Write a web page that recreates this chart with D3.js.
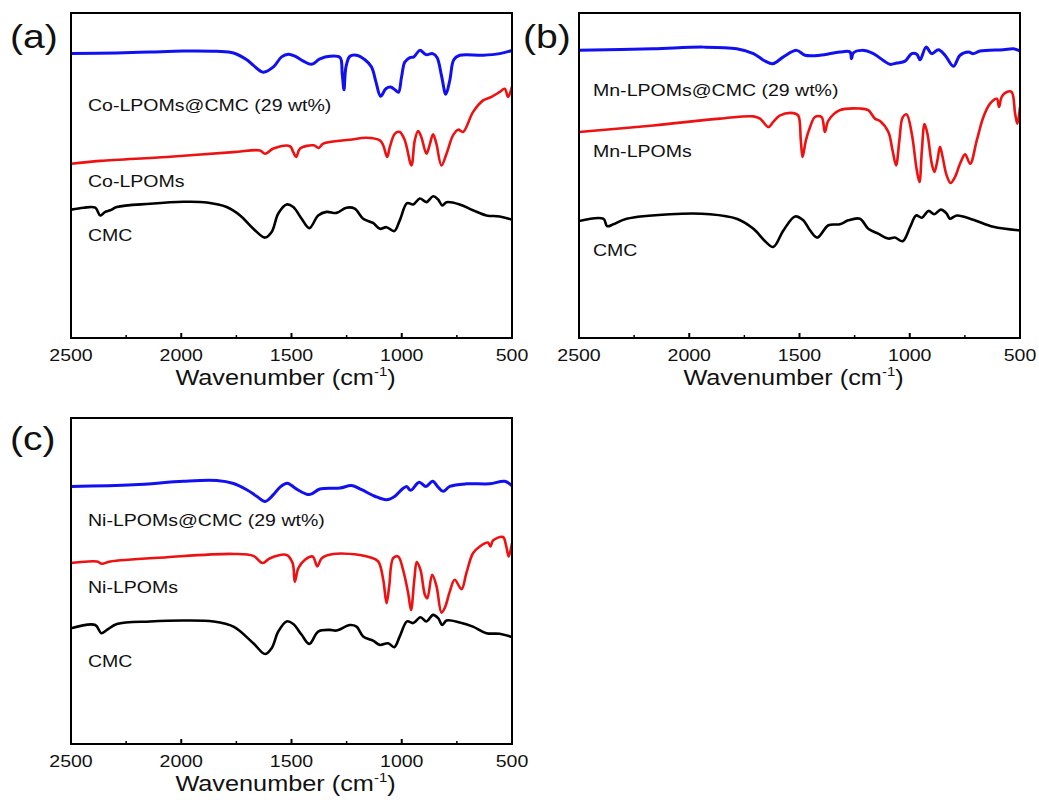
<!DOCTYPE html>
<html>
<head>
<meta charset="utf-8">
<script src="https://cdn.jsdelivr.net/npm/d3@7"></script>
<style>
  body { margin: 0; background: #fff; }
  svg { display: block; font-family: Arial, "Liberation Sans", sans-serif; }
</style>
</head>
<body>
<svg id="fig" width="1039" height="800"></svg>
<script>
// wavenumber (cm-1), transmittance (a.u., offset per trace)
const coComposite = [[2500,87.5],[2292,87.7],[2141,88.0],[1990,88.3],[1839,88.2],[1763,87.7],[1703,85.6],[1673,83.9],[1628,81.8],[1582,83.4],[1545,86.5],[1514,87.3],[1484,86.7],[1446,85.2],[1409,84.2],[1371,85.9],[1326,86.7],[1280,86.3],[1270,81.3],[1262,76.4],[1253,83.4],[1235,86.7],[1205,87.0],[1167,85.6],[1137,83.4],[1117,78.8],[1096,74.4],[1072,76.7],[1051,77.2],[1031,76.4],[1015,75.6],[1001,80.3],[986,84.9],[963,86.3],[945,86.5],[918,88.5],[890,87.2],[860,87.5],[840,86.3],[820,80.8],[800,75.0],[782,79.3],[764,85.6],[737,87.0],[631,87.0],[556,87.5],[500,88.5]];
const coLPOM = [[2500,53.6],[2367,54.5],[2065,55.7],[1763,57.2],[1643,57.7],[1620,56.7],[1582,58.3],[1507,59.0],[1492,57.2],[1479,55.7],[1461,58.3],[1400,59.3],[1377,58.5],[1356,59.8],[1235,61.0],[1160,61.6],[1099,60.8],[1084,59.3],[1066,55.7],[1054,58.8],[1031,62.9],[1009,63.4],[986,60.8],[956,53.1],[941,60.8],[926,63.7],[911,61.8],[888,56.7],[873,59.5],[858,62.7],[843,59.8],[820,53.1],[797,56.7],[767,62.4],[744,64.1],[722,63.4],[677,69.5],[631,73.1],[593,74.2],[556,75.7],[533,76.7],[518,74.2],[507,75.7],[500,77.4]];
const cmcA = [[2500,39.5],[2443,40.1],[2390,40.1],[2367,37.7],[2345,38.8],[2322,39.3],[2292,40.3],[2141,41.3],[1990,41.9],[1884,41.7],[1794,40.3],[1733,37.7],[1673,33.6],[1620,30.9],[1590,32.6],[1560,38.3],[1522,41.1],[1492,40.3],[1454,36.7],[1419,33.8],[1379,37.7],[1341,38.8],[1296,38.5],[1251,40.1],[1213,39.8],[1175,36.7],[1130,35.4],[1099,33.6],[1069,34.1],[1034,32.9],[1009,36.2],[976,41.5],[948,41.1],[918,42.9],[888,41.8],[858,43.6],[835,42.6],[816,40.8],[797,41.8],[737,41.1],[677,39.3],[616,37.7],[556,37.4],[500,36.4]];

const mnComposite = [[2500,88.5],[2163,89.0],[1936,89.5],[1785,89.0],[1709,87.5],[1656,85.2],[1621,84.4],[1573,86.5],[1513,88.5],[1475,87.0],[1407,87.0],[1317,88.0],[1271,88.0],[1264,85.9],[1256,87.7],[1218,88.5],[1165,87.5],[1120,85.4],[1090,84.2],[1059,84.6],[1021,85.2],[991,87.5],[968,87.3],[953,85.6],[926,89.5],[900,87.5],[870,88.7],[840,87.0],[802,83.6],[772,87.0],[734,88.0],[712,87.5],[681,88.3],[576,88.7],[530,89.0],[500,88.3]];
const mnLPOM = [[2500,63.4],[2163,65.4],[1861,67.5],[1709,68.2],[1679,67.5],[1641,64.9],[1619,66.5],[1588,68.5],[1528,69.2],[1506,68.5],[1494,60.8],[1486,55.7],[1471,60.8],[1452,64.9],[1430,68.0],[1400,68.0],[1385,63.4],[1369,66.9],[1317,70.1],[1226,70.6],[1188,70.1],[1158,67.5],[1135,66.8],[1097,63.4],[1078,57.7],[1062,53.1],[1047,60.8],[1032,67.9],[1014,68.8],[991,62.9],[968,51.6],[956,48.0],[945,57.7],[933,65.8],[920,62.9],[900,53.6],[888,51.1],[875,54.5],[863,58.8],[851,55.7],[833,50.1],[815,47.7],[795,49.5],[772,53.6],[749,56.5],[726,53.6],[696,60.8],[666,68.0],[636,72.1],[605,73.6],[595,71.1],[583,74.2],[560,75.7],[538,75.7],[522,69.0],[512,65.9],[500,71.1]];
const cmcB = [[2500,36.0],[2390,36.7],[2372,34.4],[2344,35.0],[2284,36.7],[2087,38.1],[1906,38.1],[1785,36.7],[1709,33.6],[1656,29.8],[1619,28.0],[1573,33.1],[1520,37.4],[1483,36.2],[1452,33.1],[1419,30.9],[1369,34.7],[1317,35.0],[1279,36.2],[1226,36.7],[1188,33.6],[1143,32.1],[1097,30.6],[1067,30.9],[1032,29.8],[998,34.2],[971,37.7],[945,37.0],[915,39.1],[889,38.1],[859,39.5],[833,38.3],[818,36.7],[787,37.7],[712,36.4],[621,34.2],[500,33.1]];

const niComposite = [[2500,79.0],[2216,79.5],[1990,80.6],[1839,80.8],[1763,79.9],[1703,78.0],[1658,76.0],[1620,74.4],[1582,76.5],[1552,78.8],[1519,80.0],[1477,78.2],[1419,76.5],[1371,78.2],[1280,78.5],[1228,79.3],[1182,78.0],[1122,76.0],[1069,74.9],[1031,76.0],[1001,78.0],[978,79.0],[960,77.8],[921,80.3],[890,79.0],[860,80.6],[835,78.8],[812,77.5],[782,79.0],[707,79.8],[601,79.8],[533,80.6],[500,79.2]];
const niLPOM = [[2500,55.5],[2382,56.0],[2360,55.3],[2322,56.0],[2065,57.3],[1763,58.3],[1673,57.7],[1631,55.5],[1597,57.0],[1522,58.0],[1495,55.5],[1485,49.8],[1469,53.9],[1439,56.5],[1404,57.5],[1383,54.5],[1363,57.0],[1311,58.3],[1190,58.0],[1145,57.3],[1107,56.0],[1084,50.4],[1069,43.2],[1057,48.3],[1039,57.0],[1016,57.5],[994,53.4],[971,46.3],[958,41.1],[943,50.4],[932,55.8],[915,53.4],[895,45.8],[884,44.7],[862,51.9],[842,48.3],[820,40.3],[804,41.9],[782,46.8],[760,50.4],[729,47.5],[707,52.4],[677,58.5],[646,60.6],[609,61.8],[598,60.6],[586,62.4],[541,63.5],[526,60.6],[515,57.5],[500,61.6]];
const cmcC = [[2500,35.5],[2390,36.5],[2363,34.0],[2337,35.0],[2292,36.8],[2141,37.6],[1990,37.9],[1854,37.6],[1763,36.0],[1673,30.9],[1620,27.6],[1590,29.4],[1560,34.5],[1522,37.6],[1492,36.8],[1454,33.5],[1419,30.7],[1379,34.5],[1326,35.0],[1296,34.8],[1235,36.5],[1205,36.0],[1175,33.0],[1130,31.7],[1099,30.4],[1062,30.9],[1034,29.7],[1009,33.0],[976,37.6],[948,37.1],[915,38.9],[888,37.6],[858,39.6],[835,38.6],[816,36.5],[797,37.9],[737,37.3],[677,36.0],[616,34.0],[556,33.8],[500,32.8]];

const majorTicks = [2500, 2000, 1500, 1000, 500];
const minorTicks = [2250, 1750, 1250, 750];
const panelLetters = ["(a)", "(b)", "(c)"];
const traceNames = [
  ["Co-LPOMs@CMC (29 wt%)", "Co-LPOMs", "CMC"],
  ["Mn-LPOMs@CMC (29 wt%)", "Mn-LPOMs", "CMC"],
  ["Ni-LPOMs@CMC (29 wt%)", "Ni-LPOMs", "CMC"]
];
const traceData = [
  [coComposite, coLPOM, cmcA],
  [mnComposite, mnLPOM, cmcB],
  [niComposite, niLPOM, cmcC]
];

const colors = ["#1010f0", "#ee1111", "#000"];
const widths = [3, 2.6, 2.6];
const SX = 1.15; // glyphs in the source are a bit wide

const panels = [
  { x0: 71, x1: 512, y0: 13, y1: 338, lx: 17, ly: [98, 174, 228], lpos: [10, 48] },
  { x0: 579, x1: 1020, y0: 13, y1: 338, lx: 14, ly: [83, 144, 243], lpos: [523, 48] },
  { x0: 71, x1: 512, y0: 418, y1: 744, lx: 17, ly: [108, 175, 249], lpos: [10, 450] }
];

const svg = d3.select("#fig");

function stext(g, x, y, str, size, anchor) {
  return g.append("text")
    .attr("transform", `translate(${x},${y}) scale(${SX},1)`)
    .attr("font-size", size).attr("text-anchor", anchor || "start")
    .attr("fill", "#111").text(str);
}

panels.forEach((p, i) => {
  const g = svg.append("g");
  const x = d3.scaleLinear().domain([2500, 500]).range([p.x0, p.x1]);
  const y = d3.scaleLinear().domain([0, 100]).range([p.y1, p.y0]);
  const line = d3.line().x(d => x(d[0])).y(d => y(d[1])).curve(d3.curveCatmullRom.alpha(0.5));

  g.append("clipPath").attr("id", "clip" + i).append("rect")
    .attr("x", p.x0).attr("y", p.y0).attr("width", p.x1 - p.x0).attr("height", p.y1 - p.y0);

  traceData[i].forEach((s, k) => {
    g.append("path").datum(s).attr("d", line).attr("fill", "none")
      .attr("stroke", colors[k]).attr("stroke-width", widths[k])
      .attr("stroke-linejoin", "round").attr("clip-path", `url(#clip${i})`);
  });

  g.append("rect").attr("x", p.x0).attr("y", p.y0).attr("width", p.x1 - p.x0).attr("height", p.y1 - p.y0)
    .attr("fill", "none").attr("stroke", "#000").attr("stroke-width", 2);

  const ax = g.append("g").attr("transform", `translate(0,${p.y1})`);
  ax.selectAll("line.mj").data(majorTicks).enter().append("line")
    .attr("x1", d => x(d)).attr("x2", d => x(d)).attr("y1", 0).attr("y2", -5)
    .attr("stroke", "#000").attr("stroke-width", 2);
  ax.selectAll("line.mn").data(minorTicks).enter().append("line")
    .attr("x1", d => x(d)).attr("x2", d => x(d)).attr("y1", 0).attr("y2", -3)
    .attr("stroke", "#000").attr("stroke-width", 1.5);
  majorTicks.forEach(t => stext(ax, x(t), 23, t, 17, "middle"));

  const title = stext(g, (p.x0 + p.x1) / 2 - 6, p.y1 + 47, "Wavenumber (cm", 22, "middle");
  title.append("tspan").attr("font-size", 13).attr("dy", -9).text("-1");
  title.append("tspan").attr("dy", 9).text(")");

  traceNames[i].forEach((n, k) => stext(g, p.x0 + p.lx, p.y0 + p.ly[k], n, 17));

  stext(g, p.lpos[0], p.lpos[1], panelLetters[i], 34);
});
</script>
</body>
</html>
